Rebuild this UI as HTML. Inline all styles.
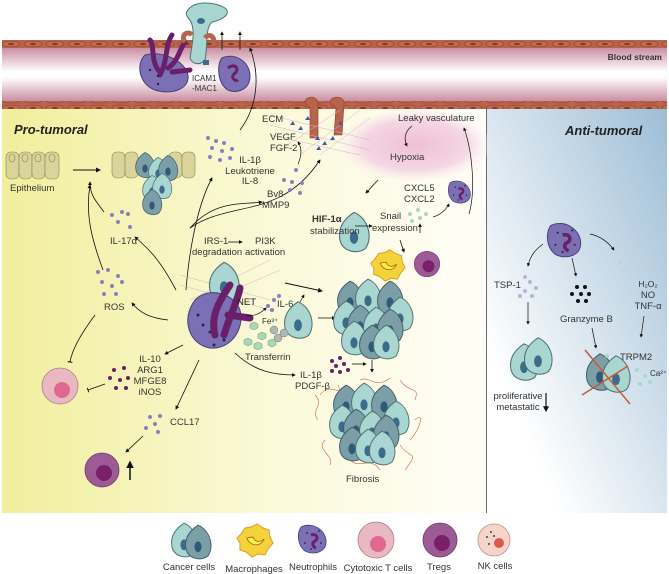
<!DOCTYPE html>
<html><head><meta charset="utf-8"><style>
html,body{margin:0;padding:0;background:#fff}
svg{display:block}
text{font-family:"Liberation Sans",sans-serif;font-size:9.5px;fill:#333}
.b{font-weight:bold;font-style:italic;font-size:13px;fill:#222}
</style></head><body>
<svg width="669" height="574" viewBox="0 0 669 574" xmlns="http://www.w3.org/2000/svg">
<defs>
<linearGradient id="yl" x1="0" x2="1" y1="0" y2="0"><stop offset="0" stop-color="#f1ee9c"/><stop offset="0.55" stop-color="#fbf9d8"/><stop offset="1" stop-color="#fffef8"/></linearGradient>
<linearGradient id="bl" x1="0" y1="1" x2="1" y2="0"><stop offset="0.2" stop-color="#ffffff"/><stop offset="1" stop-color="#9dbdd6"/></linearGradient>
<linearGradient id="lum" x1="0" y1="0" x2="0" y2="1"><stop offset="0" stop-color="#c98a9e"/><stop offset="0.45" stop-color="#ffffff"/><stop offset="0.55" stop-color="#ffffff"/><stop offset="1" stop-color="#c98a9e"/></linearGradient>
<radialGradient id="hyp" cx="0.5" cy="0.5" r="0.5"><stop offset="0" stop-color="#efc0d4"/><stop offset="0.7" stop-color="#f5d6e3"/><stop offset="1" stop-color="#fbeef3" stop-opacity="0.2"/></radialGradient>
<pattern id="wall" width="22" height="8" patternUnits="userSpaceOnUse"><rect width="22" height="8" fill="#b8644c"/><ellipse cx="11" cy="4" rx="9" ry="3" fill="#c06a52" stroke="#8a3a28" stroke-width="0.6"/><ellipse cx="11" cy="4" rx="3" ry="1.3" fill="#8a3a28"/></pattern>
<g id="cc"><path d="M0,-14 C10,-10 14,4 8,12 C2,16 -8,14 -10,6 C-12,-4 -6,-10 0,-14Z" fill="#a9d6d1" stroke="#4d7174" stroke-width="0.8"/><ellipse cx="0" cy="4" rx="3" ry="4.5" fill="#3c6c8c"/></g>
<g id="cd"><path d="M0,-14 C10,-10 14,4 8,12 C2,16 -8,14 -10,6 C-12,-4 -6,-10 0,-14Z" fill="#7c9ea6" stroke="#3f5f66" stroke-width="0.8"/><ellipse cx="0" cy="4" rx="3" ry="4.5" fill="#2f5a7a"/></g>
<g id="ne"><path d="M-12,-12 C0,-18 14,-8 13,4 C12,14 0,16 -8,12 C-16,6 -16,-6 -12,-12Z" fill="#7c70b4" stroke="#463c7a" stroke-width="0.8"/><path d="M-2,-4 C4,-6 6,0 2,2 C-2,4 0,8 3,9" stroke="#6a1f6a" stroke-width="3" fill="none"/><g fill="#2a2250"><circle cx="-6" cy="-6" r="0.9"/><circle cx="6" cy="-8" r="0.9"/><circle cx="8" cy="4" r="0.9"/><circle cx="-8" cy="4" r="0.9"/><circle cx="-2" cy="10" r="0.9"/></g></g>
<g id="tr"><circle r="17" fill="#9d5b95" stroke="#6d3a68" stroke-width="0.8"/><circle cx="2" cy="3" r="8" fill="#7a1f6a"/></g>
<g id="ct"><circle r="18" fill="#e8b9c2" stroke="#b07c88" stroke-width="0.8"/><circle cx="2" cy="4" r="8" fill="#e0678f"/></g>
<g id="mp"><path d="M-14,-6 L-10,-12 L-4,-13 L2,-16 L8,-12 L14,-10 L15,-3 L18,3 L13,9 L10,15 L3,14 L-3,17 L-9,12 L-15,10 L-15,3 L-18,-2Z" fill="#f4d23a" stroke="#e09a30" stroke-width="1"/><path d="M-8,-2 C-6,6 6,8 9,-1 C6,2 0,3 -2,-3Z" fill="#fff14a" stroke="#a06010" stroke-width="0.8"/></g>
<marker id="ar" viewBox="0 0 10 10" refX="8" refY="5" markerWidth="5" markerHeight="5" orient="auto"><path d="M0,0 L10,5 L0,10Z" fill="#111"/></marker>
<marker id="tb" viewBox="0 0 10 10" refX="5" refY="5" markerWidth="6" markerHeight="6" orient="auto"><path d="M5,0 L5,10" stroke="#111" stroke-width="2"/></marker>
</defs>

<rect x="2" y="108" width="484" height="405" fill="url(#yl)"/>
<rect x="487" y="108" width="180" height="405" fill="url(#bl)"/>
<line x1="486.5" y1="108" x2="486.5" y2="513" stroke="#444" stroke-width="0.8"/>
<ellipse cx="415" cy="145" rx="75" ry="36" fill="url(#hyp)"/>
<rect x="2" y="47" width="665" height="55" fill="url(#lum)"/>
<rect x="2" y="40" width="665" height="8" fill="url(#wall)"/>
<rect x="2" y="101" width="665" height="8" fill="url(#wall)"/>
<text x="662" y="60" text-anchor="end" style="font-weight:bold;font-size:8.5px">Blood stream</text>

<path d="M145,55 C160,50 185,60 188,75 C190,90 170,95 155,90 C140,85 135,65 145,55Z" fill="#7c70b4" stroke="#463c7a"/>
<path d="M160,75 C168,60 165,45 172,35 M168,68 C178,62 180,48 185,42 M160,72 C150,62 155,45 150,40 M172,72 L190,70" stroke="#6a1f6a" stroke-width="5" fill="none" stroke-linecap="round"/>
<g fill="#2a2250"><circle cx="150" cy="70" r="1.2"/><circle cx="158" cy="76" r="1.2"/><circle cx="158" cy="84" r="1.2"/></g>
<path d="M188,10 C195,0 215,2 225,8 C232,14 222,20 212,22 C205,28 208,45 205,60 C200,66 192,64 190,58 C192,45 196,30 190,20 C186,16 185,13 188,10Z" fill="#a9d6d1" stroke="#4d7174"/>
<ellipse cx="201" cy="21" rx="4" ry="3" fill="#3c6c8c"/>
<path d="M185,42 C180,35 188,30 192,35 M205,38 C210,32 216,38 213,44" stroke="#b8644c" stroke-width="5" fill="none"/>
<path d="M222,58 C235,52 250,62 250,76 C250,90 236,94 228,90 C218,84 216,65 222,58Z" fill="#7c70b4" stroke="#463c7a"/>
<path d="M228,68 C236,62 240,70 234,74 C230,78 236,82 238,80" stroke="#6a1f6a" stroke-width="3" fill="none"/>
<rect x="203" y="60" width="6" height="5" fill="#3c6c8c"/>
<text x="192" y="81" style="font-size:8px">ICAM1</text><text x="192" y="91" style="font-size:8px">-MAC1</text>
<line x1="222" y1="50" x2="222" y2="32" stroke="#111" stroke-width="0.8" marker-end="url(#ar)"/>
<line x1="240" y1="50" x2="240" y2="32" stroke="#111" stroke-width="0.8" marker-end="url(#ar)"/>
<path d="M240,130 C255,110 262,80 250,48" stroke="#111" stroke-width="0.8" fill="none" marker-end="url(#ar)"/>

<path d="M305,103 C305,95 318,95 318,104 L318,138 L310,138 L310,108Z" fill="#b8644c" stroke="#8a3a28" stroke-width="0.6"/>
<path d="M330,103 C330,95 345,95 344,104 L342,135 L334,135 L336,108Z" fill="#b8644c" stroke="#8a3a28" stroke-width="0.6"/>
<g stroke="#d8b0cc" stroke-width="0.5"><path d="M270,115 L370,140 M270,125 L370,150 M270,135 L360,155 M280,150 L340,110 M300,155 L360,110 M320,155 L370,118"/></g>
<g fill="#3d5aa8"><path d="M290,125l3,-4l2,4z M298,130l3,-4l2,4z M305,120l3,-4l2,4z M315,140l3,-4l2,4z M322,145l3,-4l2,4z M330,140l3,-4l2,4z M338,125l3,-4l2,4z M316,150l3,-4l2,4z"/></g>
<text x="262" y="122">ECM</text>
<text x="270" y="140">VEGF</text><text x="270" y="151">FGF-2</text>
<path d="M298,164 C302,155 302,148 298,142" stroke="#111" stroke-width="0.7" fill="none" marker-end="url(#ar)"/>
<path d="M190,228 C230,200 280,220 320,160" stroke="#111" stroke-width="0.8" fill="none" marker-end="url(#ar)"/>
<path d="M190,228 C215,200 240,205 262,202" stroke="#111" stroke-width="0.8" fill="none" marker-end="url(#ar)"/>
<g fill="#8a80c0"><circle cx="296" cy="170" r="2"/><circle cx="284" cy="180" r="2"/><circle cx="292" cy="182" r="2"/><circle cx="302" cy="183" r="2"/><circle cx="290" cy="190" r="2"/><circle cx="300" cy="193" r="2"/></g>
<text x="267" y="197">Bv8</text><text x="262" y="208">MMP9</text>

<g fill="#8a80c0"><circle cx="208" cy="138" r="2"/><circle cx="216" cy="141" r="2"/><circle cx="224" cy="143" r="2"/><circle cx="212" cy="148" r="2"/><circle cx="222" cy="151" r="2"/><circle cx="232" cy="149" r="2"/><circle cx="210" cy="157" r="2"/><circle cx="220" cy="160" r="2"/><circle cx="230" cy="158" r="2"/></g>
<text x="250" y="163" text-anchor="middle">IL-1β</text><text x="250" y="174" text-anchor="middle">Leukotriene</text><text x="250" y="184" text-anchor="middle">IL-8</text>
<path d="M186,290 C190,240 200,200 212,178" stroke="#111" stroke-width="0.8" fill="none" marker-end="url(#ar)"/>

<text x="398" y="121">Leaky vasculature</text>
<text x="390" y="160">Hypoxia</text>
<path d="M412,126 C404,132 404,140 407,146" stroke="#111" stroke-width="0.7" fill="none" marker-end="url(#ar)"/>
<path d="M469,214 C476,190 472,150 464,128" stroke="#111" stroke-width="0.7" fill="none" marker-end="url(#ar)"/>
<line x1="378" y1="180" x2="366" y2="193" stroke="#111" stroke-width="0.8" marker-end="url(#ar)"/>
<text x="404" y="191">CXCL5</text><text x="404" y="202">CXCL2</text>
<g fill="#a8d8c8"><circle cx="410" cy="214" r="2"/><circle cx="418" cy="210" r="2"/><circle cx="420" cy="218" r="2"/><circle cx="412" cy="221" r="2"/><circle cx="426" cy="214" r="2"/></g>
<path d="M433,217 C440,215 446,210 449,204" stroke="#111" stroke-width="0.7" fill="none" marker-end="url(#ar)"/>
<use href="#ne" transform="translate(460,192) scale(0.8)"/>
<use href="#cc" transform="translate(354,232) scale(1.4)"/>
<text x="312" y="222" style="font-weight:bold">HIF-1α</text><text x="310" y="234">stabilization</text>
<line x1="355" y1="226" x2="372" y2="226" stroke="#111" stroke-width="0.8" marker-end="url(#ar)"/>
<text x="380" y="219">Snail</text><text x="372" y="231">expression</text>
<line x1="420" y1="233" x2="420" y2="224" stroke="#111" stroke-width="0.8" marker-end="url(#ar)"/>
<line x1="400" y1="240" x2="404" y2="252" stroke="#111" stroke-width="0.8" marker-end="url(#ar)"/>
<use href="#mp" transform="translate(388,265) scale(0.95)"/>
<use href="#tr" transform="translate(427,264) scale(0.75)"/>

<text x="204" y="244">IRS-1</text><text x="192" y="255">degradation</text>
<line x1="228" y1="242" x2="242" y2="242" stroke="#111" stroke-width="0.8" marker-end="url(#ar)"/>
<text x="255" y="244">PI3K</text><text x="245" y="255">activation</text>
<g stroke="#d8b0cc" stroke-width="0.5"><path d="M180,275 L270,300 M180,285 L270,310 M190,300 L270,260 M200,305 L280,270"/></g>
<use href="#cc" transform="translate(224,282) scale(1.4)"/>

<path d="M195,300 C210,285 235,295 240,310 C245,330 230,350 210,348 C190,345 180,320 195,300Z" fill="#7c70b4" stroke="#463c7a"/>
<g fill="#2a2250"><circle cx="198" cy="315" r="1.5"/><circle cx="203" cy="325" r="1.5"/><circle cx="210" cy="332" r="1.5"/><circle cx="214" cy="345" r="1.5"/><circle cx="224" cy="340" r="1.5"/></g>
<path d="M215,335 C210,315 220,300 230,285 M224,335 C230,315 238,300 240,288 M228,315 L250,318" stroke="#6a1f6a" stroke-width="7" fill="none" stroke-linecap="round"/>
<text x="237" y="305" style="fill:#222">NET</text>
<path d="M247,315 C255,317 262,312 266,308" stroke="#111" stroke-width="0.7" fill="none" marker-end="url(#ar)"/>
<g fill="#8a80c0"><circle cx="268" cy="306" r="2"/><circle cx="274" cy="300" r="2"/><circle cx="279" cy="296" r="2"/><circle cx="272" cy="310" r="2"/></g>
<text x="277" y="307">IL-6</text>
<line x1="300" y1="302" x2="304" y2="295" stroke="#111" stroke-width="0.7" marker-end="url(#ar)"/>
<line x1="285" y1="283" x2="322" y2="291" stroke="#111" stroke-width="1" marker-end="url(#ar)"/>
<use href="#cc" transform="translate(298,320) scale(1.3)"/>
<text x="262" y="324" style="font-size:8px">Fe³⁺</text>
<g fill="#b0b8b4" stroke="#777" stroke-width="0.5"><circle cx="274" cy="330" r="4"/><circle cx="278" cy="338" r="4"/><circle cx="284" cy="333" r="4"/></g>
<g fill="#a8d8b8" stroke="#6ba080" stroke-width="0.5"><polygon points="250,324 254,322 258,324 258,328 254,330 250,328"/><polygon points="258,334 262,332 266,334 266,338 262,340 258,338"/><polygon points="244,340 248,338 252,340 252,344 248,346 244,344"/><polygon points="254,344 258,342 262,344 262,348 258,350 254,348"/><polygon points="268,341 272,339 276,341 276,345 272,347 268,345"/></g>
<text x="245" y="360">Transferrin</text>
<line x1="318" y1="318" x2="335" y2="318" stroke="#111" stroke-width="0.8" marker-end="url(#ar)"/>

<g transform="translate(372,316)">
<use href="#cd" transform="translate(-22,-18) scale(1.2)"/><use href="#cc" transform="translate(-4,-20) scale(1.2)"/><use href="#cd" transform="translate(18,-18) scale(1.2)"/><use href="#cc" transform="translate(28,-2) scale(1.2)"/>
<use href="#cc" transform="translate(-26,2) scale(1.2)"/><use href="#cd" transform="translate(-12,6) scale(1.2)"/><use href="#cc" transform="translate(4,8) scale(1.2)"/><use href="#cd" transform="translate(18,10) scale(1.2)"/>
<use href="#cc" transform="translate(-18,22) scale(1.2)"/><use href="#cd" transform="translate(0,26) scale(1.2)"/><use href="#cc" transform="translate(14,26) scale(1.2)"/>
</g>

<path d="M235,353 C255,372 275,375 295,375" stroke="#111" stroke-width="0.8" fill="none" marker-end="url(#ar)"/>
<text x="300" y="378">IL-1β</text><text x="295" y="389">PDGF-β</text>
<g fill="#6a1f6a"><circle cx="332" cy="361" r="2"/><circle cx="340" cy="358" r="2"/><circle cx="336" cy="366" r="2"/><circle cx="344" cy="364" r="2"/><circle cx="340" cy="372" r="2"/><circle cx="348" cy="370" r="2"/><circle cx="332" cy="371" r="2"/></g>
<line x1="352" y1="364" x2="366" y2="364" stroke="#111" stroke-width="0.8" marker-end="url(#ar)"/>
<line x1="372" y1="360" x2="372" y2="372" stroke="#111" stroke-width="0.8" marker-end="url(#ar)"/>
<g stroke="#d0604a" stroke-width="0.6" fill="none"><path d="M320,395 C330,380 345,400 338,385 M400,380 C410,395 420,385 415,400 M325,440 C315,450 335,455 330,465 M400,445 C410,460 420,450 405,470 M350,460 C360,470 370,455 380,470 M360,380 C370,375 375,390 390,378 M318,420 C310,410 325,405 315,395 M415,420 C425,410 420,430 410,440"/></g>
<g transform="translate(368,420)">
<use href="#cd" transform="translate(-22,-18) scale(1.2)"/><use href="#cc" transform="translate(-4,-20) scale(1.2)"/><use href="#cd" transform="translate(16,-18) scale(1.2)"/><use href="#cc" transform="translate(28,-2) scale(1.2)"/>
<use href="#cc" transform="translate(-26,2) scale(1.2)"/><use href="#cd" transform="translate(-12,6) scale(1.2)"/><use href="#cc" transform="translate(4,8) scale(1.2)"/><use href="#cd" transform="translate(18,12) scale(1.2)"/>
<use href="#cd" transform="translate(-16,24) scale(1.2)"/><use href="#cc" transform="translate(0,26) scale(1.2)"/><use href="#cc" transform="translate(14,28) scale(1.2)"/>
</g>
<text x="346" y="482">Fibrosis</text>

<g fill="#d8d49a" stroke="#8a8650" stroke-width="0.6">
<rect x="6" y="152" width="13" height="27" rx="5"/><rect x="19" y="152" width="13" height="27" rx="5"/><rect x="32" y="152" width="13" height="27" rx="5"/><rect x="45" y="152" width="14" height="27" rx="5"/>
<rect x="112" y="152" width="13" height="26" rx="5"/><rect x="125" y="152" width="13" height="26" rx="5"/><rect x="169" y="152" width="13" height="26" rx="5"/><rect x="182" y="152" width="13" height="26" rx="5"/>
</g>
<g fill="none" stroke="#8a8650" stroke-width="0.6"><ellipse cx="12" cy="158" rx="3" ry="4"/><ellipse cx="25" cy="158" rx="3" ry="4"/><ellipse cx="38" cy="158" rx="3" ry="4"/><ellipse cx="52" cy="158" rx="3" ry="4"/></g>
<use href="#cd" transform="translate(145,165) scale(0.9)"/><use href="#cc" transform="translate(158,170) scale(0.9)"/><use href="#cd" transform="translate(168,168) scale(0.9)"/><use href="#cc" transform="translate(152,188) scale(0.9)"/><use href="#cc" transform="translate(162,186) scale(0.9)"/><use href="#cd" transform="translate(152,202) scale(0.9)"/>
<text x="10" y="191">Epithelium</text>
<line x1="73" y1="170" x2="100" y2="170" stroke="#111" stroke-width="1" marker-end="url(#ar)"/>
<g fill="#8a80c0"><circle cx="112" cy="215" r="2"/><circle cx="122" cy="212" r="2"/><circle cx="128" cy="214" r="2"/><circle cx="118" cy="222" r="2"/><circle cx="130" cy="227" r="2"/></g>
<text x="110" y="244">IL-17α</text>
<path d="M104,212 C95,200 90,195 90,182" stroke="#111" stroke-width="0.8" fill="none" marker-end="url(#ar)"/>
<path d="M103,270 C92,240 85,215 90,185" stroke="#111" stroke-width="0.8" fill="none" marker-end="url(#ar)"/>
<path d="M176,290 C160,260 150,250 135,237" stroke="#111" stroke-width="0.8" fill="none" marker-end="url(#ar)"/>
<g fill="#8a80c0"><circle cx="98" cy="272" r="2"/><circle cx="108" cy="270" r="2"/><circle cx="118" cy="276" r="2"/><circle cx="102" cy="282" r="2"/><circle cx="112" cy="286" r="2"/><circle cx="122" cy="282" r="2"/><circle cx="104" cy="294" r="2"/><circle cx="116" cy="294" r="2"/></g>
<text x="104" y="310">ROS</text>
<path d="M168,320 C150,318 140,313 132,303" stroke="#111" stroke-width="0.8" fill="none" marker-end="url(#ar)"/>
<path d="M95,315 C80,335 72,350 70,362" stroke="#111" stroke-width="0.8" fill="none" marker-end="url(#tb)"/>
<use href="#ct" transform="translate(60,386)"/>
<path d="M183,345 L165,354" stroke="#111" stroke-width="0.8" marker-end="url(#ar)"/>
<text x="150" y="362" text-anchor="middle">IL-10</text><text x="150" y="373" text-anchor="middle">ARG1</text><text x="150" y="384" text-anchor="middle">MFGE8</text><text x="150" y="395" text-anchor="middle">iNOS</text>
<g fill="#6a1f6a"><circle cx="114" cy="370" r="2"/><circle cx="124" cy="368" r="2"/><circle cx="110" cy="378" r="2"/><circle cx="120" cy="380" r="2"/><circle cx="128" cy="378" r="2"/><circle cx="116" cy="388" r="2"/><circle cx="126" cy="388" r="2"/></g>
<line x1="105" y1="384" x2="88" y2="390" stroke="#111" stroke-width="0.8" marker-end="url(#tb)"/>
<line x1="199" y1="360" x2="176" y2="409" stroke="#111" stroke-width="0.8" marker-end="url(#ar)"/>
<g fill="#8a80c0"><circle cx="150" cy="417" r="2"/><circle cx="160" cy="416" r="2"/><circle cx="155" cy="424" r="2"/><circle cx="146" cy="428" r="2"/><circle cx="158" cy="432" r="2"/></g>
<text x="170" y="425">CCL17</text>
<line x1="143" y1="436" x2="126" y2="452" stroke="#111" stroke-width="0.8" marker-end="url(#ar)"/>
<use href="#tr" transform="translate(102,470)"/>
<line x1="130" y1="480" x2="130" y2="462" stroke="#111" stroke-width="1.5" marker-end="url(#ar)"/>
<text x="14" y="134" class="b">Pro-tumoral</text>

<text x="565" y="135" class="b">Anti-tumoral</text>
<use href="#ne" transform="translate(565,240) scale(1.2)"/>
<path d="M543,244 C535,250 530,256 528,266" stroke="#111" stroke-width="0.7" fill="none" marker-end="url(#ar)"/>
<line x1="572" y1="258" x2="576" y2="276" stroke="#111" stroke-width="0.7" marker-end="url(#ar)"/>
<path d="M590,234 C600,236 608,242 614,250" stroke="#111" stroke-width="0.7" fill="none" marker-end="url(#ar)"/>
<text x="494" y="288">TSP-1</text>
<g fill="#b8b4d8"><circle cx="525" cy="277" r="2"/><circle cx="530" cy="282" r="2"/><circle cx="525" cy="291" r="2"/><circle cx="536" cy="288" r="2"/><circle cx="520" cy="296" r="2"/><circle cx="532" cy="296" r="2"/></g>
<g fill="#111"><circle cx="577" cy="287" r="2"/><circle cx="585" cy="287" r="2"/><circle cx="572" cy="294" r="2"/><circle cx="581" cy="294" r="2"/><circle cx="589" cy="294" r="2"/><circle cx="578" cy="301" r="2"/><circle cx="586" cy="301" r="2"/></g>
<text x="560" y="322">Granzyme B</text>
<g fill="#c8cfe0"><circle cx="626" cy="254" r="2"/><circle cx="640" cy="254" r="2"/><circle cx="620" cy="262" r="2"/><circle cx="634" cy="262" r="2"/><circle cx="648" cy="262" r="2"/><circle cx="624" cy="270" r="2"/><circle cx="642" cy="270" r="2"/></g>
<text x="648" y="287" text-anchor="middle" style="font-size:8.5px">H₂O₂</text><text x="648" y="298" text-anchor="middle">NO</text><text x="648" y="309" text-anchor="middle">TNF-α</text>
<line x1="528" y1="302" x2="528" y2="324" stroke="#111" stroke-width="0.7" marker-end="url(#ar)"/>
<line x1="592" y1="328" x2="596" y2="348" stroke="#111" stroke-width="0.7" marker-end="url(#ar)"/>
<line x1="644" y1="316" x2="641" y2="337" stroke="#111" stroke-width="0.7" marker-end="url(#ar)"/>
<use href="#cc" transform="translate(524,362) scale(1.3)"/><use href="#cc" transform="translate(538,356) scale(1.3)"/>
<text x="518" y="399" text-anchor="middle">proliferative</text><text x="518" y="410" text-anchor="middle">metastatic</text>
<line x1="546" y1="393" x2="546" y2="411" stroke="#111" stroke-width="1.2" marker-end="url(#ar)"/>
<use href="#cd" transform="translate(600,372) scale(1.3)"/><use href="#cc" transform="translate(616,374) scale(1.3)"/>
<path d="M585,350 L630,404 M582,395 L628,366" stroke="#c85a3a" stroke-width="1.5"/>
<g fill="#a8d8c8"><circle cx="607" cy="356" r="2"/><circle cx="637" cy="370" r="2"/><circle cx="645" cy="376" r="2"/><circle cx="640" cy="384" r="2"/><circle cx="650" cy="382" r="2"/></g>
<text x="620" y="360">TRPM2</text>
<text x="650" y="376" style="font-size:8px">Ca²⁺</text>

<use href="#cc" transform="translate(184,540) scale(1.2)"/><use href="#cd" transform="translate(198,542) scale(1.2)"/>
<use href="#mp" transform="translate(255,540)"/>
<use href="#ne" transform="translate(313,539)"/>
<use href="#ct" transform="translate(376,540)"/>
<use href="#tr" transform="translate(440,540)"/>
<circle cx="494" cy="540" r="16" fill="#f6d4cc" stroke="#c09088" stroke-width="0.8"/><circle cx="499" cy="543" r="5" fill="#d85a4a"/>
<g fill="#111"><circle cx="487" cy="537" r="0.9"/><circle cx="491" cy="532" r="0.9"/><circle cx="489" cy="544" r="0.9"/><circle cx="494" cy="536" r="0.9"/></g>
<g style="font-size:9px"><text x="189" y="570" text-anchor="middle">Cancer cells</text><text x="254" y="572" text-anchor="middle">Macrophages</text><text x="313" y="570" text-anchor="middle">Neutrophils</text><text x="378" y="571" text-anchor="middle">Cytotoxic T cells</text><text x="439" y="570" text-anchor="middle">Tregs</text><text x="495" y="569" text-anchor="middle">NK cells</text></g>
</svg>
</body></html>
